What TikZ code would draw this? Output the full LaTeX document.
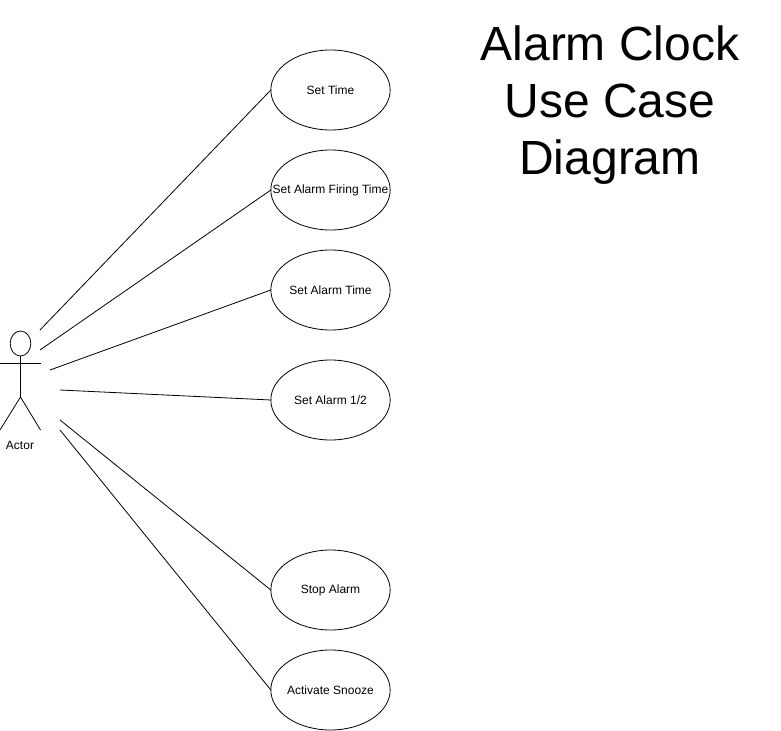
\documentclass[tikz,border=0pt]{standalone}
\usepackage{fontspec}
\setmainfont{Liberation Sans}
\usetikzlibrary{shapes.geometric}
\newcommand{\uctext}[1]{\makebox[0pt]{\raisebox{-0.3pt}{#1}}}
\begin{document}
\begin{tikzpicture}[x=0.75pt, y=-0.75pt, line width=0.6pt]
\tikzset{usecase/.style={draw, ellipse, inner sep=0pt, outer sep=0pt, minimum width=89.5pt, minimum height=60pt, font=\fontsize{9}{11}\selectfont}}
\tikzset{tete/.style={draw, ellipse, inner sep=0pt, outer sep=0pt, minimum width=15.5pt, minimum height=18.75pt}}
\useasboundingbox (0, 0) rectangle (781, 731);
\node[usecase] (U1) at (330.5, 90) {\uctext{Set Time}};
\node[usecase] (U2) at (330.5, 190) {\uctext{Set Alarm Firing Time}};
\node[usecase] (U3) at (330.5, 290) {\uctext{Set Alarm Time}};
\node[usecase] (U4) at (330.5, 400) {\uctext{Set Alarm 1/2}};
\node[usecase] (U5) at (330.5, 590) {\uctext{Stop Alarm}};
\node[usecase] (U6) at (330.5, 690) {\uctext{Activate Snooze}};
\node[tete] (H) at (20.5, 343.5) {};
\coordinate (Hip) at (20.5, 397);
\coordinate (AL) at (0, 363.5);
\coordinate (AR) at (40.5, 363.5);
\coordinate (LL) at (0, 430);
\coordinate (LR) at (40.5, 430);
\node[font=\fontsize{9}{11}\selectfont] (Actor) at (20, 445) {Actor};
\draw (H) -- (Hip);
\draw (AL) -- (AR);
\draw (LL) -- (Hip) -- (LR);
\coordinate (A1) at (40, 330);
\coordinate (A2) at (40, 350);
\coordinate (A3) at (50, 370);
\coordinate (A4) at (60, 390);
\coordinate (A5) at (60, 420);
\coordinate (A6) at (60, 430);
\draw (A1) -- (U1.west);
\draw (A2) -- (U2.west);
\draw (A3) -- (U3.west);
\draw (A4) -- (U4.west);
\draw (A5) -- (U5.west);
\draw (A6) -- (U6.west);
\node[align=center, font=\fontsize{36}{42.75}\selectfont] (Title) at (610, 105) {Alarm Clock\\Use Case\\Diagram};
\end{tikzpicture}
\end{document}
